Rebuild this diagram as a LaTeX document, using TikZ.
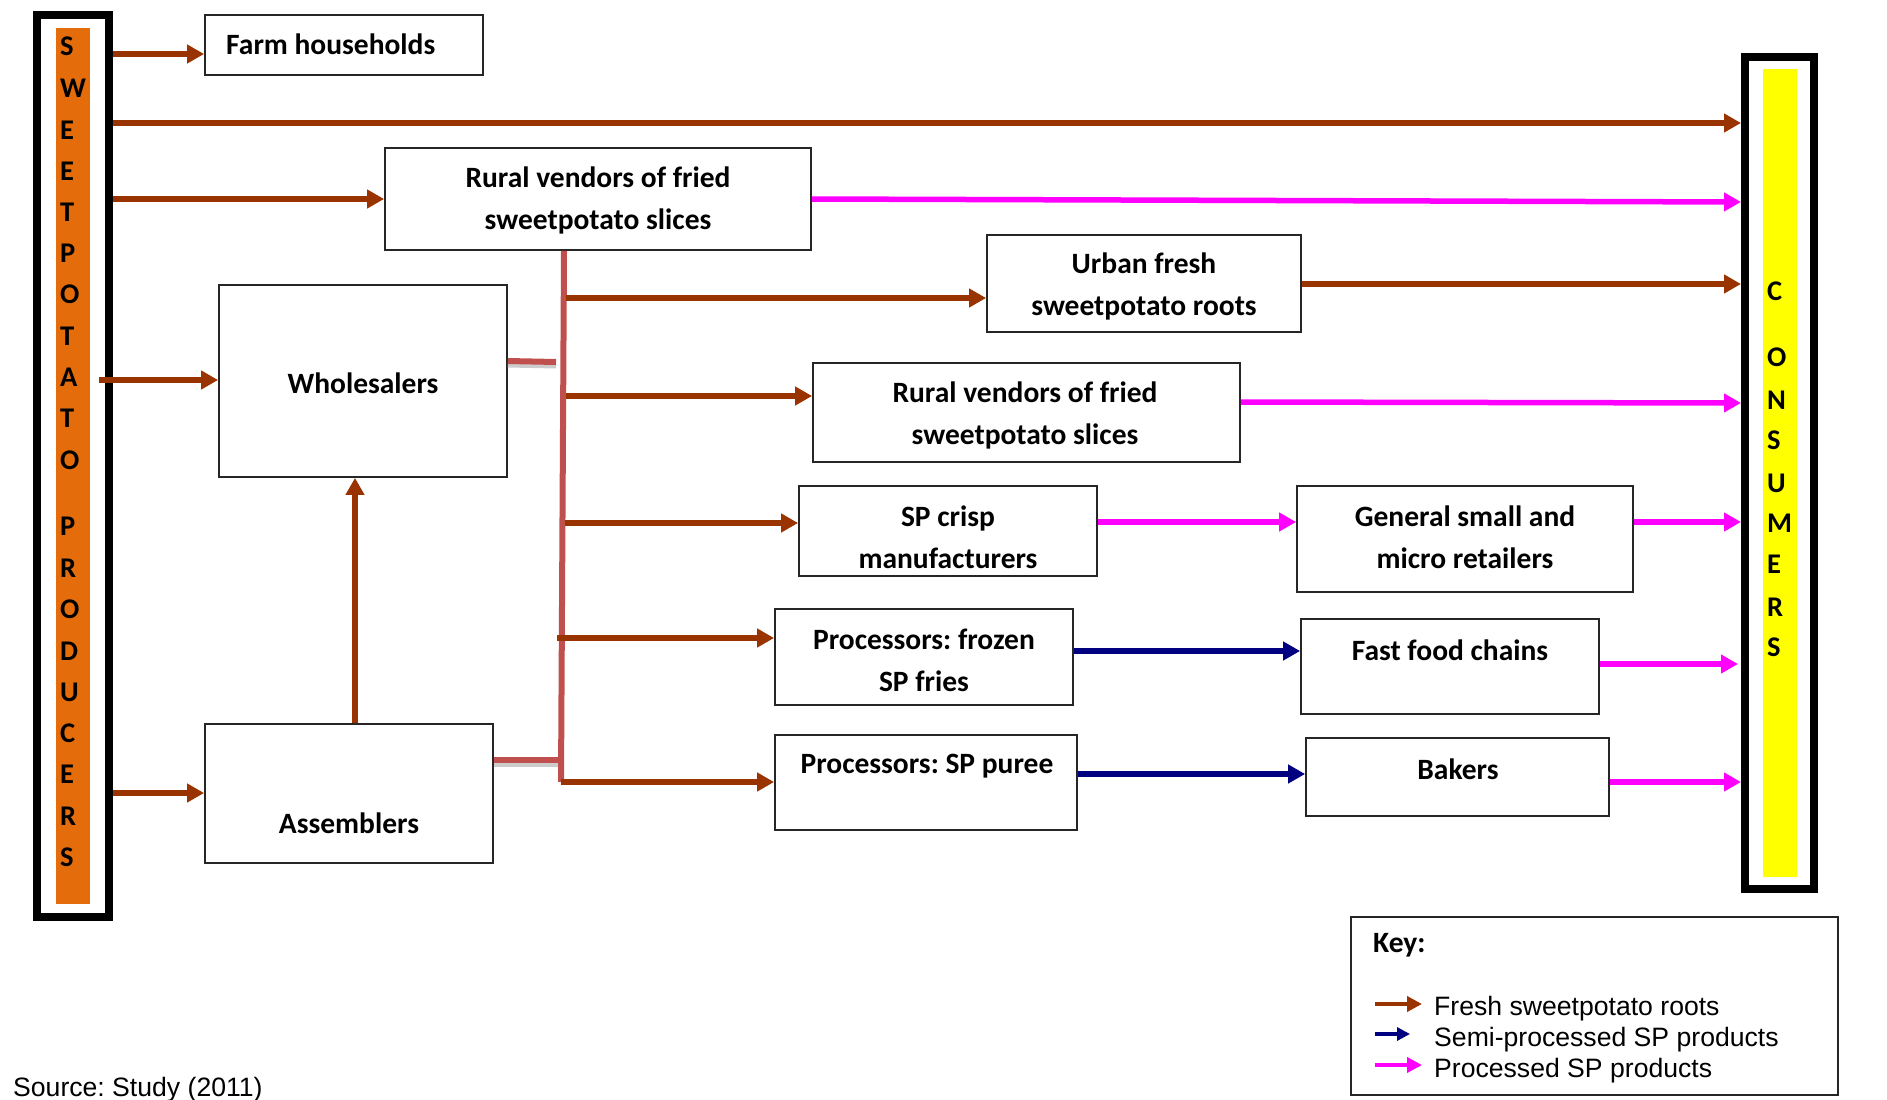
\documentclass[tikz,border=0pt]{standalone}
\usepackage{fontspec}
\setmainfont{Carlito}
\newfontfamily\arialf{Liberation Sans}
\usetikzlibrary{arrows.meta}
\definecolor{brn}{RGB}{153,51,0}
\definecolor{mag}{RGB}{255,0,255}
\definecolor{nvy}{RGB}{0,0,128}
\definecolor{redl}{RGB}{192,80,77}
\definecolor{orng}{RGB}{228,108,10}
\definecolor{ylw}{RGB}{255,255,0}
\frenchspacing
\begin{document}
\begin{tikzpicture}[x=1pt,y=-1pt,
  box/.style={draw=black!85, line width=1.8pt, inner sep=0pt, fill=white},
  frm/.style={draw=black, line width=8pt, inner sep=0pt},
  lbl/.style={font=\fontsize{29.5}{42}\selectfont\bfseries, align=center, inner sep=0pt},
  vlet/.style={font=\fontsize{28.5}{32}\selectfont\bfseries, anchor=west, inner sep=0pt},
  keyt/.style={font=\arialf\fontsize{26.6}{30}\selectfont, anchor=west, inner sep=0pt},
  fa/.style={-{Triangle[length=17pt,width=18pt]}, line width=5.5pt, draw=brn},
  pa/.style={-{Triangle[length=17pt,width=18pt]}, line width=5.5pt, draw=mag},
  na/.style={-{Triangle[length=17pt,width=18pt]}, line width=5.5pt, draw=nvy},
  rl/.style={line width=6pt, draw=redl},
  shd/.style={line width=5pt, draw=black!20}]
\useasboundingbox (0,0) rectangle (1887,1100);

% producers
\node[frm, minimum width=72pt, minimum height=902pt] (prod) at (73,466) {};
\fill[orng] (56,28) rectangle (90,904);
\foreach \t/\y [count=\i] in {S/46,W/88,E/130,E/171,T/212,P/253,O/294,T/336,A/377,T/418,O/460,P/526,R/568,O/609,D/651,U/692,C/733,E/774,R/816,S/857}
  \node[vlet] (pl\i) at (60,\y) {\t};

% consumers
\node[frm, minimum width=69pt, minimum height=832pt] (cons) at (1779.5,473) {};
\fill[ylw] (1763,69) rectangle (1797,877);
\foreach \t/\y [count=\i] in {C/291,O/357,N/400,S/440,U/483,M/523,E/564,R/607,S/647}
  \node[vlet] (cl\i) at (1767,\y) {\t};

% boxes
\node[box, minimum width=278pt, minimum height=60pt] (farm) at (344,45) {};
\node[box, minimum width=426pt, minimum height=102pt] (rv1) at (598,199) {};
\node[box, minimum width=288pt, minimum height=192pt] (whole) at (363,381) {};
\node[box, minimum width=288pt, minimum height=139pt] (assem) at (349,793.5) {};
\node[box, minimum width=314pt, minimum height=97pt] (urban) at (1144,283.5) {};
\node[box, minimum width=427pt, minimum height=99pt] (rv2) at (1026.5,412.5) {};
\node[box, minimum width=298pt, minimum height=90pt] (crisp) at (948,531) {};
\node[box, minimum width=298pt, minimum height=96pt] (frozen) at (924,657) {};
\node[box, minimum width=302pt, minimum height=95pt] (puree) at (926,782.5) {};
\node[box, minimum width=336pt, minimum height=106pt] (general) at (1465,539) {};
\node[box, minimum width=298pt, minimum height=95pt] (fast) at (1450,666.5) {};
\node[box, minimum width=303pt, minimum height=78pt] (bakers) at (1457.5,777) {};
\node[box, minimum width=487pt, minimum height=178pt] (key) at (1594.5,1006) {};

% box texts
\node[lbl, anchor=west] (tfarm) at (226,44) {Farm households};
\node[lbl] (trv1) at (598,200) {Rural vendors of fried\\sweetpotato slices};
\node[lbl] (twhole) at (363,383) {Wholesalers};
\node[lbl] (tassem) at (349,823) {Assemblers};
\node[lbl] (turban) at (1144,286) {Urban fresh\\sweetpotato roots};
\node[lbl] (trv2) at (1025,415) {Rural vendors of fried\\sweetpotato slices};
\node[lbl] (tcrisp) at (948,537) {SP crisp\\manufacturers};
\node[lbl] (tfrozen) at (924,660) {Processors: frozen\\SP fries};
\node[lbl] (tpuree) at (927,766) {Processors: SP puree};
\node[lbl] (tgeneral) at (1465,537) {General small and\\micro retailers};
\node[lbl] (tfast) at (1450,650) {Fast food chains};
\node[lbl] (tbakers) at (1458,769) {Bakers};

% red connector lines
\draw[shd] (whole.east |- 0,365) -- (556,366);
\draw[shd] (assem.east |- 0,764) -- (561,764);
\draw[rl] ([xshift=-34pt]rv1.south) -- (561,782);
\draw[rl] (whole.east |- 0,361) -- (556,362);
\draw[rl] (assem.east |- 0,760) -- (563,760);

% producer arrows
\draw[fa] (prod.east |- 0,54) -- (farm.west |- 0,54);
\draw[fa] (prod.east |- 0,123) -- (cons.west |- 0,123);
\draw[fa] (prod.east |- rv1.west) -- (rv1.west);
\draw[fa] ([xshift=-14pt]prod.east |- 0,380) -- (whole.west |- 0,380);
\draw[fa] (prod.east |- 0,793) -- (assem.west |- 0,793);
\draw[fa] ([xshift=6pt]assem.north) -- ([xshift=6pt]assem.north |- whole.south);

% branch arrows
\draw[fa] (566,298) -- (urban.west |- 0,298);
\draw[fa] (566,396) -- (rv2.west |- 0,396);
\draw[fa] (565,523) -- (crisp.west |- 0,523);
\draw[fa] (557,638) -- (frozen.west |- 0,638);
\draw[fa] (561,782) -- (puree.west |- 0,782);

% to consumers and between
\draw[pa] (rv1.east) -- (cons.west |- 0,202);
\draw[fa] (urban.east |- 0,284) -- (cons.west |- 0,284);
\draw[pa] (rv2.east |- 0,402) -- (cons.west |- 0,403);
\draw[pa] (crisp.east |- 0,522) -- (general.west |- 0,522);
\draw[pa] (general.east |- 0,522) -- (cons.west |- 0,522);
\draw[na] (frozen.east |- 0,651) -- (fast.west |- 0,651);
\draw[pa] (fast.east |- 0,664) -- ([xshift=-3pt]cons.west |- 0,664);
\draw[na] (puree.east |- 0,774) -- (bakers.west |- 0,774);
\draw[pa] (bakers.east |- 0,782) -- (cons.west |- 0,782);

% key
\node[lbl, anchor=west] (tkey) at (1373,945) {Key:};
\coordinate (k1a) at (1375,1004); \coordinate (k1b) at (1422,1004);
\coordinate (k2a) at (1375,1034); \coordinate (k2b) at (1410,1034);
\coordinate (k3a) at (1375,1065); \coordinate (k3b) at (1422,1065);
\draw[-{Triangle[length=15pt,width=15pt]}, line width=4pt, draw=brn] (k1a) -- (k1b);
\draw[-{Triangle[length=13pt,width=13pt]}, line width=4pt, draw=nvy] (k2a) -- (k2b);
\draw[-{Triangle[length=15pt,width=15pt]}, line width=4.5pt, draw=mag] (k3a) -- (k3b);
\node[keyt] (kt1) at (1434,1009) {Fresh sweetpotato roots};
\node[keyt] (kt2) at (1434,1040) {Semi-processed SP products};
\node[keyt] (kt3) at (1434,1071) {Processed SP products};

\node[keyt] (src) at (13,1090) {Source: Study (2011)};
\end{tikzpicture}
\end{document}
